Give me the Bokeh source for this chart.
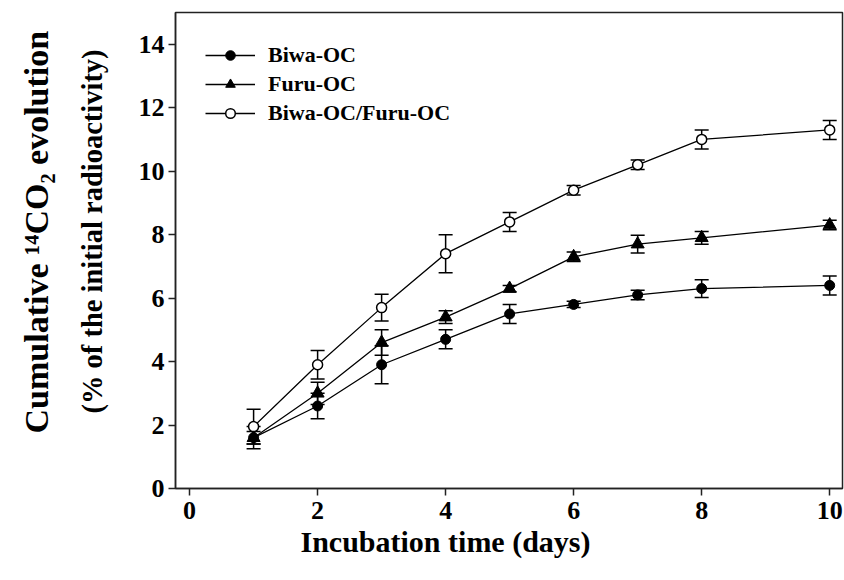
from bokeh.plotting import figure
from bokeh.models import ColumnDataSource, Whisker, Title, Range1d, FixedTicker, TeeHead
from bokeh.embed import file_html
from bokeh.resources import INLINE

days = [1, 2, 3, 4, 5, 6, 7, 8, 10]
biwa = [1.6, 2.6, 3.9, 4.7, 5.5, 5.8, 6.1, 6.3, 6.4]
biwa_err = [0.35, 0.4, 0.6, 0.3, 0.3, 0.1, 0.15, 0.28, 0.3]
furu = [1.6, 3.0, 4.6, 5.4, 6.3, 7.3, 7.7, 7.9, 8.3]
furu_err = [0.2, 0.35, 0.4, 0.2, 0.1, 0.15, 0.28, 0.2, 0.15]
mix = [1.95, 3.9, 5.7, 7.4, 8.4, 9.4, 10.2, 11.0, 11.3]
mix_err = [0.55, 0.45, 0.42, 0.6, 0.3, 0.15, 0.15, 0.3, 0.3]

series_names = ["Biwa-OC", "Furu-OC", "Biwa-OC/Furu-OC"]
x_ticks = [0, 2, 4, 6, 8, 10]
y_ticks = [0, 2, 4, 6, 8, 10, 12, 14]

FONT = "Liberation Serif"

p = figure(width=844, height=580, output_backend="svg", toolbar_location=None,
           x_range=Range1d(-0.22, 10.2), y_range=Range1d(0, 15),
           min_border_left=175, min_border_right=2, min_border_top=12, min_border_bottom=92)
p.background_fill_color = "white"
p.border_fill_color = "white"
p.xgrid.visible = False
p.ygrid.visible = False
p.outline_line_color = "#222222"
p.outline_line_width = 1.5

for ax in (p.xaxis[0], p.yaxis[0]):
    ax.axis_line_color = "#222222"
    ax.axis_line_width = 1.5
    ax.major_tick_line_color = "#222222"
    ax.major_tick_line_width = 1.5
    ax.major_tick_out = 7
    ax.major_tick_in = 0
    ax.minor_tick_line_color = None
    ax.major_label_text_font = FONT
    ax.major_label_text_font_style = "bold"
    ax.major_label_text_font_size = "26px"
    ax.major_label_text_color = "black"

p.xaxis.axis_label = None
p.yaxis.axis_label = " "
p.yaxis.axis_label_text_font_size = "1px"
p.yaxis.axis_label_standoff = 8

p.xaxis.ticker = FixedTicker(ticks=x_ticks)
p.yaxis.ticker = FixedTicker(ticks=y_ticks)
p.xaxis.major_label_standoff = 6
p.yaxis.major_label_standoff = 4

def make_source(vals, errs):
    return ColumnDataSource(dict(x=days, y=vals,
                                 lo=[v - e for v, e in zip(vals, errs)],
                                 hi=[v + e for v, e in zip(vals, errs)]))

src_b = make_source(biwa, biwa_err)
src_f = make_source(furu, furu_err)
src_m = make_source(mix, mix_err)

for src in (src_b, src_f, src_m):
    w = Whisker(source=src, base="x", lower="lo", upper="hi", line_color="black", line_width=1.5,
                upper_head=TeeHead(size=14, line_color="black", line_width=1.5),
                lower_head=TeeHead(size=14, line_color="black", line_width=1.5))
    p.add_layout(w)

p.line("x", "y", source=src_b, line_color="black", line_width=1.3, legend_label=series_names[0])
p.scatter("x", "y", source=src_b, marker="circle", size=10, fill_color="black", line_color="black",
          legend_label=series_names[0])
p.line("x", "y", source=src_f, line_color="black", line_width=1.3, legend_label=series_names[1])
p.scatter("x", "y", source=src_f, marker="triangle", size=13, fill_color="black", line_color="black",
          legend_label=series_names[1])
p.line("x", "y", source=src_m, line_color="black", line_width=1.3, legend_label=series_names[2])
p.scatter("x", "y", source=src_m, marker="circle", size=10, fill_color="white", line_color="black",
          line_width=1.5, legend_label=series_names[2])

lg = p.legend[0]
lg.location = "top_left"
lg.margin = 30
lg.padding = 10
lg.border_line_color = None
lg.background_fill_alpha = 0
lg.label_text_font = FONT
lg.label_text_font_style = "bold"
lg.label_text_font_size = "22px"
lg.label_text_color = "black"
lg.glyph_width = 50
lg.glyph_height = 24
lg.label_height = 24
lg.spacing = 3
lg.label_standoff = 13

t2 = Title(text="(% of the initial radioactivity)", text_font=FONT, text_font_style="bold",
           text_font_size="28.5px", text_color="black", align="left", offset=75, standoff=31)
p.add_layout(t2, "left")
t1 = Title(text="Cumulative \u00b9\u2074CO\u2082 evolution", text_font=FONT, text_font_style="bold",
           text_font_size="34px", text_color="black", align="left", offset=55, standoff=9)
p.add_layout(t1, "left")

tx = Title(text="Incubation time (days)", text_font=FONT, text_font_style="bold",
           text_font_size="30px", text_color="black", align="left", offset=125, standoff=2)
p.add_layout(tx, "below")

open("out.html", "w").write(file_html(p, INLINE))
